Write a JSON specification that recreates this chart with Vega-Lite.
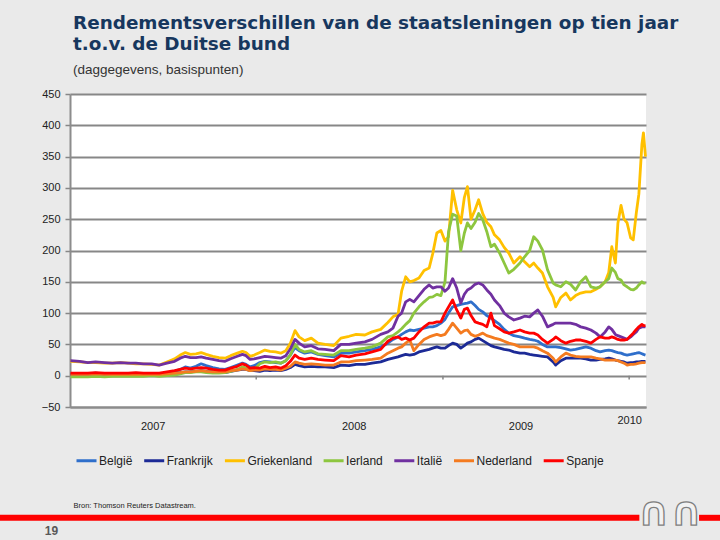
{
  "$schema": "https://vega.github.io/schema/vega-lite/v6.json",
  "autosize": {"type": "none"},
  "width": 576,
  "height": 313,
  "padding": {"left": 70, "top": 94, "right": 74, "bottom": 133},
  "background": "#EAEAEA",
  "title": {
    "text": ["Rendementsverschillen van de staatsleningen op tien jaar", "t.o.v. de Duitse bund"],
    "subtitle": "(daggegevens, basispunten)",
    "anchor": "start",
    "frame": "group",
    "dx": 3,
    "font": "DejaVu Sans",
    "fontSize": 18.4,
    "fontWeight": "bold",
    "color": "#17375E",
    "lineHeight": 21,
    "subtitleFont": "Liberation Sans",
    "subtitleFontSize": 13.5,
    "subtitleColor": "#333333",
    "subtitlePadding": 9,
    "offset": 12
  },
  "datasets": {
    "spreads": [
      {"d": "2007-01-02", "België": 3, "Frankrijk": 2, "Griekenland": 23, "Ierland": -2, "Italië": 24, "Nederland": 2, "Spanje": 4},
      {"d": "2007-01-20", "België": 3, "Frankrijk": 2, "Griekenland": 22, "Ierland": -2, "Italië": 23, "Nederland": 2, "Spanje": 4},
      {"d": "2007-02-05", "België": 3, "Frankrijk": 2, "Griekenland": 21, "Ierland": -2, "Italië": 21, "Nederland": 2, "Spanje": 4},
      {"d": "2007-02-20", "België": 4, "Frankrijk": 3, "Griekenland": 21, "Ierland": -1, "Italië": 22, "Nederland": 3, "Spanje": 5},
      {"d": "2007-03-10", "België": 3, "Frankrijk": 2, "Griekenland": 20, "Ierland": -2, "Italië": 21, "Nederland": 2, "Spanje": 4},
      {"d": "2007-03-25", "België": 3, "Frankrijk": 2, "Griekenland": 20, "Ierland": -1, "Italië": 20, "Nederland": 2, "Spanje": 4},
      {"d": "2007-04-10", "België": 3, "Frankrijk": 2, "Griekenland": 21, "Ierland": -1, "Italië": 21, "Nederland": 2, "Spanje": 4},
      {"d": "2007-04-25", "België": 3, "Frankrijk": 2, "Griekenland": 20, "Ierland": -1, "Italië": 20, "Nederland": 2, "Spanje": 4},
      {"d": "2007-05-10", "België": 3, "Frankrijk": 2, "Griekenland": 19, "Ierland": -1, "Italië": 20, "Nederland": 2, "Spanje": 5},
      {"d": "2007-05-25", "België": 3, "Frankrijk": 2, "Griekenland": 19, "Ierland": -1, "Italië": 19, "Nederland": 2, "Spanje": 4},
      {"d": "2007-06-10", "België": 3, "Frankrijk": 2, "Griekenland": 18, "Ierland": 0, "Italië": 19, "Nederland": 2, "Spanje": 4},
      {"d": "2007-06-25", "België": 3, "Frankrijk": 2, "Griekenland": 17, "Ierland": -1, "Italië": 17, "Nederland": 2, "Spanje": 4},
      {"d": "2007-07-10", "België": 4, "Frankrijk": 3, "Griekenland": 22, "Ierland": 0, "Italië": 20, "Nederland": 3, "Spanje": 6},
      {"d": "2007-07-25", "België": 7, "Frankrijk": 4, "Griekenland": 27, "Ierland": 1, "Italië": 23, "Nederland": 4, "Spanje": 8},
      {"d": "2007-08-05", "België": 10, "Frankrijk": 5, "Griekenland": 33, "Ierland": 3, "Italië": 28, "Nederland": 5, "Spanje": 10},
      {"d": "2007-08-15", "België": 14, "Frankrijk": 6, "Griekenland": 37, "Ierland": 5, "Italië": 31, "Nederland": 6, "Spanje": 12},
      {"d": "2007-08-25", "België": 12, "Frankrijk": 6, "Griekenland": 34, "Ierland": 5, "Italië": 29, "Nederland": 6, "Spanje": 11},
      {"d": "2007-09-05", "België": 15, "Frankrijk": 7, "Griekenland": 35, "Ierland": 6, "Italië": 29, "Nederland": 7, "Spanje": 12},
      {"d": "2007-09-15", "België": 19, "Frankrijk": 8, "Griekenland": 37, "Ierland": 6, "Italië": 30, "Nederland": 8, "Spanje": 13},
      {"d": "2007-09-25", "België": 16, "Frankrijk": 7, "Griekenland": 34, "Ierland": 5, "Italië": 28, "Nederland": 7, "Spanje": 12},
      {"d": "2007-10-08", "België": 13, "Frankrijk": 6, "Griekenland": 31, "Ierland": 4, "Italië": 26, "Nederland": 6, "Spanje": 10},
      {"d": "2007-10-20", "België": 11, "Frankrijk": 5, "Griekenland": 29, "Ierland": 4, "Italië": 24, "Nederland": 6, "Spanje": 9},
      {"d": "2007-11-01", "België": 10, "Frankrijk": 5, "Griekenland": 28, "Ierland": 5, "Italië": 23, "Nederland": 6, "Spanje": 9},
      {"d": "2007-11-12", "België": 13, "Frankrijk": 7, "Griekenland": 32, "Ierland": 7, "Italië": 27, "Nederland": 8, "Spanje": 12},
      {"d": "2007-11-25", "België": 17, "Frankrijk": 9, "Griekenland": 36, "Ierland": 10, "Italië": 31, "Nederland": 9, "Spanje": 15},
      {"d": "2007-12-05", "België": 20, "Frankrijk": 10, "Griekenland": 39, "Ierland": 14, "Italië": 34, "Nederland": 11, "Spanje": 19},
      {"d": "2007-12-12", "België": 18, "Frankrijk": 10, "Griekenland": 37, "Ierland": 12, "Italië": 32, "Nederland": 10, "Spanje": 17},
      {"d": "2007-12-20", "België": 14, "Frankrijk": 8, "Griekenland": 31, "Ierland": 8, "Italië": 26, "Nederland": 8, "Spanje": 12},
      {"d": "2007-12-28", "België": 16, "Frankrijk": 8, "Griekenland": 33, "Ierland": 10, "Italië": 27, "Nederland": 9, "Spanje": 13},
      {"d": "2008-01-08", "België": 21, "Frankrijk": 7, "Griekenland": 37, "Ierland": 19, "Italië": 29, "Nederland": 9, "Spanje": 12},
      {"d": "2008-01-18", "België": 23, "Frankrijk": 9, "Griekenland": 41, "Ierland": 22, "Italië": 31, "Nederland": 11, "Spanje": 15},
      {"d": "2008-01-28", "België": 22, "Frankrijk": 8, "Griekenland": 39, "Ierland": 21, "Italië": 30, "Nederland": 10, "Spanje": 13},
      {"d": "2008-02-08", "België": 21, "Frankrijk": 9, "Griekenland": 38, "Ierland": 22, "Italië": 29, "Nederland": 10, "Spanje": 14},
      {"d": "2008-02-18", "België": 20, "Frankrijk": 8, "Griekenland": 36, "Ierland": 20, "Italië": 28, "Nederland": 9, "Spanje": 12},
      {"d": "2008-02-28", "België": 24, "Frankrijk": 10, "Griekenland": 40, "Ierland": 24, "Italië": 32, "Nederland": 12, "Spanje": 16},
      {"d": "2008-03-08", "België": 33, "Frankrijk": 13, "Griekenland": 52, "Ierland": 33, "Italië": 43, "Nederland": 15, "Spanje": 23},
      {"d": "2008-03-17", "België": 45, "Frankrijk": 18, "Griekenland": 72, "Ierland": 50, "Italië": 58, "Nederland": 22, "Spanje": 33},
      {"d": "2008-03-25", "België": 40, "Frankrijk": 16, "Griekenland": 62, "Ierland": 42, "Italië": 52, "Nederland": 20, "Spanje": 28},
      {"d": "2008-04-05", "België": 36, "Frankrijk": 14, "Griekenland": 56, "Ierland": 38, "Italië": 46, "Nederland": 18, "Spanje": 26},
      {"d": "2008-04-18", "België": 38, "Frankrijk": 15, "Griekenland": 60, "Ierland": 40, "Italië": 48, "Nederland": 19, "Spanje": 28},
      {"d": "2008-05-01", "België": 34, "Frankrijk": 14, "Griekenland": 52, "Ierland": 35, "Italië": 43, "Nederland": 18, "Spanje": 26},
      {"d": "2008-05-15", "België": 32, "Frankrijk": 14, "Griekenland": 50, "Ierland": 34, "Italië": 42, "Nederland": 17, "Spanje": 25},
      {"d": "2008-06-01", "België": 30, "Frankrijk": 13, "Griekenland": 48, "Ierland": 33, "Italië": 40, "Nederland": 17, "Spanje": 24},
      {"d": "2008-06-15", "België": 36, "Frankrijk": 17, "Griekenland": 60, "Ierland": 40, "Italië": 50, "Nederland": 22, "Spanje": 32},
      {"d": "2008-07-01", "België": 36, "Frankrijk": 16, "Griekenland": 63, "Ierland": 40, "Italië": 50, "Nederland": 22, "Spanje": 30},
      {"d": "2008-07-15", "België": 38, "Frankrijk": 18, "Griekenland": 66, "Ierland": 42, "Italië": 52, "Nederland": 24, "Spanje": 33},
      {"d": "2008-08-01", "België": 40, "Frankrijk": 18, "Griekenland": 65, "Ierland": 44, "Italië": 54, "Nederland": 25, "Spanje": 35},
      {"d": "2008-08-15", "België": 42, "Frankrijk": 20, "Griekenland": 70, "Ierland": 46, "Italië": 58, "Nederland": 26, "Spanje": 38},
      {"d": "2008-09-01", "België": 46, "Frankrijk": 22, "Griekenland": 74, "Ierland": 52, "Italië": 66, "Nederland": 28, "Spanje": 42},
      {"d": "2008-09-15", "België": 52, "Frankrijk": 26, "Griekenland": 85, "Ierland": 62, "Italië": 70, "Nederland": 36, "Spanje": 55},
      {"d": "2008-09-25", "België": 58, "Frankrijk": 28, "Griekenland": 94, "Ierland": 64, "Italië": 76, "Nederland": 40, "Spanje": 60},
      {"d": "2008-10-05", "België": 62, "Frankrijk": 30, "Griekenland": 98, "Ierland": 70, "Italië": 95, "Nederland": 44, "Spanje": 62},
      {"d": "2008-10-12", "België": 66, "Frankrijk": 32, "Griekenland": 135, "Ierland": 75, "Italië": 100, "Nederland": 46, "Spanje": 58},
      {"d": "2008-10-20", "België": 70, "Frankrijk": 34, "Griekenland": 158, "Ierland": 82, "Italië": 118, "Nederland": 52, "Spanje": 60},
      {"d": "2008-10-28", "België": 73, "Frankrijk": 33, "Griekenland": 150, "Ierland": 88, "Italië": 122, "Nederland": 57, "Spanje": 57},
      {"d": "2008-11-05", "België": 72, "Frankrijk": 34, "Griekenland": 152, "Ierland": 100, "Italië": 118, "Nederland": 40, "Spanje": 60},
      {"d": "2008-11-15", "België": 74, "Frankrijk": 38, "Griekenland": 156, "Ierland": 110, "Italië": 128, "Nederland": 50, "Spanje": 70},
      {"d": "2008-11-25", "België": 76, "Frankrijk": 40, "Griekenland": 168, "Ierland": 118, "Italië": 138, "Nederland": 58, "Spanje": 78},
      {"d": "2008-12-05", "België": 78, "Frankrijk": 42, "Griekenland": 172, "Ierland": 125, "Italië": 145, "Nederland": 62, "Spanje": 84},
      {"d": "2008-12-12", "België": 78, "Frankrijk": 44, "Griekenland": 195, "Ierland": 126, "Italië": 140, "Nederland": 64, "Spanje": 84},
      {"d": "2008-12-20", "België": 80, "Frankrijk": 46, "Griekenland": 228, "Ierland": 130, "Italië": 142, "Nederland": 66, "Spanje": 86},
      {"d": "2008-12-28", "België": 84, "Frankrijk": 44, "Griekenland": 232, "Ierland": 128, "Italië": 142, "Nederland": 64, "Spanje": 86},
      {"d": "2009-01-05", "België": 90, "Frankrijk": 44, "Griekenland": 215, "Ierland": 150, "Italië": 135, "Nederland": 66, "Spanje": 100},
      {"d": "2009-01-12", "België": 100, "Frankrijk": 48, "Griekenland": 222, "Ierland": 230, "Italië": 140, "Nederland": 74, "Spanje": 110},
      {"d": "2009-01-20", "België": 110, "Frankrijk": 52, "Griekenland": 296, "Ierland": 258, "Italië": 155, "Nederland": 84, "Spanje": 121},
      {"d": "2009-01-28", "België": 112, "Frankrijk": 50, "Griekenland": 265, "Ierland": 255, "Italië": 140, "Nederland": 76, "Spanje": 105},
      {"d": "2009-02-05", "België": 114, "Frankrijk": 44, "Griekenland": 244, "Ierland": 200, "Italië": 116, "Nederland": 68, "Spanje": 92},
      {"d": "2009-02-12", "België": 115, "Frankrijk": 48, "Griekenland": 285, "Ierland": 228, "Italië": 130, "Nederland": 72, "Spanje": 106},
      {"d": "2009-02-18", "België": 116, "Frankrijk": 52, "Griekenland": 302, "Ierland": 244, "Italië": 137, "Nederland": 73, "Spanje": 108},
      {"d": "2009-02-25", "België": 118, "Frankrijk": 54, "Griekenland": 250, "Ierland": 235, "Italië": 140, "Nederland": 66, "Spanje": 96},
      {"d": "2009-03-05", "België": 112, "Frankrijk": 58, "Griekenland": 265, "Ierland": 245, "Italië": 146, "Nederland": 63, "Spanje": 86},
      {"d": "2009-03-12", "België": 106, "Frankrijk": 60, "Griekenland": 281, "Ierland": 259, "Italië": 148, "Nederland": 65, "Spanje": 84},
      {"d": "2009-03-20", "België": 102, "Frankrijk": 56, "Griekenland": 259, "Ierland": 249, "Italië": 145, "Nederland": 68, "Spanje": 82},
      {"d": "2009-03-28", "België": 96, "Frankrijk": 52, "Griekenland": 245, "Ierland": 230, "Italië": 137, "Nederland": 64, "Spanje": 78},
      {"d": "2009-04-05", "België": 92, "Frankrijk": 48, "Griekenland": 238, "Ierland": 206, "Italië": 130, "Nederland": 62, "Spanje": 100},
      {"d": "2009-04-12", "België": 88, "Frankrijk": 46, "Griekenland": 225, "Ierland": 210, "Italië": 121, "Nederland": 60, "Spanje": 80},
      {"d": "2009-04-22", "België": 82, "Frankrijk": 44, "Griekenland": 217, "Ierland": 196, "Italië": 112, "Nederland": 58, "Spanje": 75},
      {"d": "2009-05-01", "België": 74, "Frankrijk": 42, "Griekenland": 205, "Ierland": 180, "Italië": 100, "Nederland": 55, "Spanje": 70},
      {"d": "2009-05-10", "België": 68, "Frankrijk": 41, "Griekenland": 196, "Ierland": 164, "Italië": 94, "Nederland": 52, "Spanje": 68},
      {"d": "2009-05-20", "België": 64, "Frankrijk": 38, "Griekenland": 180, "Ierland": 170, "Italië": 89, "Nederland": 50, "Spanje": 70},
      {"d": "2009-06-01", "België": 62, "Frankrijk": 36, "Griekenland": 190, "Ierland": 180, "Italië": 92, "Nederland": 46, "Spanje": 73},
      {"d": "2009-06-10", "België": 60, "Frankrijk": 36, "Griekenland": 182, "Ierland": 190, "Italië": 95, "Nederland": 46, "Spanje": 70},
      {"d": "2009-06-20", "België": 58, "Frankrijk": 34, "Griekenland": 174, "Ierland": 200, "Italië": 94, "Nederland": 46, "Spanje": 68},
      {"d": "2009-06-28", "België": 57, "Frankrijk": 33, "Griekenland": 180, "Ierland": 222, "Italië": 100, "Nederland": 46, "Spanje": 68},
      {"d": "2009-07-06", "België": 55, "Frankrijk": 32, "Griekenland": 172, "Ierland": 215, "Italië": 105, "Nederland": 44, "Spanje": 65},
      {"d": "2009-07-15", "België": 50, "Frankrijk": 31, "Griekenland": 164, "Ierland": 201, "Italië": 95, "Nederland": 40, "Spanje": 58},
      {"d": "2009-07-25", "België": 46, "Frankrijk": 30, "Griekenland": 142, "Ierland": 169, "Italië": 78, "Nederland": 36, "Spanje": 52},
      {"d": "2009-08-05", "België": 46, "Frankrijk": 22, "Griekenland": 125, "Ierland": 148, "Italië": 82, "Nederland": 28, "Spanje": 58},
      {"d": "2009-08-10", "België": 46, "Frankrijk": 17, "Griekenland": 110, "Ierland": 145, "Italië": 84, "Nederland": 22, "Spanje": 62},
      {"d": "2009-08-20", "België": 45, "Frankrijk": 24, "Griekenland": 125, "Ierland": 142, "Italië": 84, "Nederland": 30, "Spanje": 56},
      {"d": "2009-08-30", "België": 43, "Frankrijk": 28, "Griekenland": 132, "Ierland": 150, "Italië": 84, "Nederland": 36, "Spanje": 52},
      {"d": "2009-09-08", "België": 41, "Frankrijk": 28, "Griekenland": 121, "Ierland": 146, "Italië": 84, "Nederland": 33, "Spanje": 55},
      {"d": "2009-09-18", "België": 42, "Frankrijk": 28, "Griekenland": 128, "Ierland": 137, "Italië": 82, "Nederland": 31, "Spanje": 57},
      {"d": "2009-09-28", "België": 44, "Frankrijk": 28, "Griekenland": 132, "Ierland": 150, "Italië": 78, "Nederland": 30, "Spanje": 57},
      {"d": "2009-10-08", "België": 46, "Frankrijk": 27, "Griekenland": 134, "Ierland": 158, "Italië": 76, "Nederland": 30, "Spanje": 55},
      {"d": "2009-10-18", "België": 44, "Frankrijk": 25, "Griekenland": 134, "Ierland": 142, "Italië": 73, "Nederland": 30, "Spanje": 52},
      {"d": "2009-10-28", "België": 40, "Frankrijk": 25, "Griekenland": 138, "Ierland": 140, "Italië": 68, "Nederland": 28, "Spanje": 58},
      {"d": "2009-11-05", "België": 38, "Frankrijk": 26, "Griekenland": 142, "Ierland": 142, "Italië": 62, "Nederland": 27, "Spanje": 62},
      {"d": "2009-11-15", "België": 40, "Frankrijk": 27, "Griekenland": 150, "Ierland": 150, "Italië": 70, "Nederland": 25, "Spanje": 60},
      {"d": "2009-11-22", "België": 41, "Frankrijk": 28, "Griekenland": 165, "Ierland": 155, "Italië": 78, "Nederland": 25, "Spanje": 60},
      {"d": "2009-11-28", "België": 40, "Frankrijk": 27, "Griekenland": 206, "Ierland": 172, "Italië": 74, "Nederland": 25, "Spanje": 62},
      {"d": "2009-12-05", "België": 38, "Frankrijk": 25, "Griekenland": 180, "Ierland": 165, "Italië": 66, "Nederland": 25, "Spanje": 60},
      {"d": "2009-12-10", "België": 37, "Frankrijk": 24, "Griekenland": 244, "Ierland": 155, "Italië": 64, "Nederland": 24, "Spanje": 58},
      {"d": "2009-12-16", "België": 36, "Frankrijk": 23, "Griekenland": 272, "Ierland": 153, "Italië": 62, "Nederland": 22, "Spanje": 57},
      {"d": "2009-12-22", "België": 34, "Frankrijk": 22, "Griekenland": 250, "Ierland": 145, "Italië": 60, "Nederland": 20, "Spanje": 57},
      {"d": "2009-12-28", "België": 33, "Frankrijk": 20, "Griekenland": 244, "Ierland": 142, "Italië": 58, "Nederland": 17, "Spanje": 58},
      {"d": "2010-01-04", "België": 34, "Frankrijk": 21, "Griekenland": 220, "Ierland": 138, "Italië": 62, "Nederland": 18, "Spanje": 64},
      {"d": "2010-01-09", "België": 35, "Frankrijk": 21, "Griekenland": 217, "Ierland": 137, "Italië": 66, "Nederland": 18, "Spanje": 68},
      {"d": "2010-01-15", "België": 36, "Frankrijk": 22, "Griekenland": 260, "Ierland": 140, "Italië": 70, "Nederland": 19, "Spanje": 74},
      {"d": "2010-01-20", "België": 37, "Frankrijk": 22, "Griekenland": 290, "Ierland": 145, "Italië": 76, "Nederland": 20, "Spanje": 78},
      {"d": "2010-01-26", "België": 35, "Frankrijk": 23, "Griekenland": 370, "Ierland": 150, "Italië": 78, "Nederland": 21, "Spanje": 82},
      {"d": "2010-01-29", "België": 34, "Frankrijk": 23, "Griekenland": 388, "Ierland": 148, "Italië": 78, "Nederland": 21, "Spanje": 80},
      {"d": "2010-02-02", "België": 33, "Frankrijk": 23, "Griekenland": 350, "Ierland": 148, "Italië": 78, "Nederland": 21, "Spanje": 80}
    ],
    "yearTicks": [
      {"d": "2008-01-01"},
      {"d": "2009-01-01"},
      {"d": "2010-01-01"}
    ],
    "band": [
      {"from": "2006-08-10", "to": "2010-01-21"},
      {"from": "2010-05-18", "to": "2010-07-15"}
    ],
    "logo": [
      {"d": "2010-03-22", "mark": "∩∩"}
    ]
  },
  "layer": [
    {
      "data": {"name": "spreads"},
      "transform": [
        {"fold": ["België", "Frankrijk", "Griekenland", "Ierland", "Italië", "Nederland", "Spanje"], "as": ["land", "bp"]}
      ],
      "mark": {"type": "line", "strokeWidth": 2.8, "strokeJoin": "round"},
      "encoding": {
        "x": {
          "field": "d",
          "type": "temporal",
          "scale": {"domain": [{"year": 2007, "month": 1, "date": 1}, {"year": 2010, "month": 2, "date": 3}]},
          "axis": {
            "values": [
              {"year": 2007, "month": 6, "date": 12},
              {"year": 2008, "month": 7, "date": 10},
              {"year": 2009, "month": 6, "date": 2},
              {"year": 2010, "month": 1, "date": 1}
            ],
            "labelExpr": "timeFormat(datum.value, '%Y')",
            "ticks": false,
            "grid": false,
            "domainColor": "#8C8C8C",
            "domainWidth": 2,
            "labelFont": "Liberation Sans",
            "labelFontSize": 11,
            "labelColor": "#222222",
            "labelPadding": 13,
            "labelOverlap": false,
            "labelBaseline": {"condition": {"test": "year(datum.value) == 2010", "value": "middle"}, "value": "top"},
            "title": "Bron: Thomson Reuters Datastream.",
            "titleFont": "Liberation Sans",
            "titleFontSize": 7.5,
            "titleFontWeight": "normal",
            "titleColor": "#222222",
            "titleAnchor": "start",
            "titleAlign": "left",
            "titleBaseline": "middle",
            "titleX": 3,
            "titleY": 98
          }
        },
        "y": {
          "field": "bp",
          "type": "quantitative",
          "scale": {"domain": [-50, 450], "nice": false},
          "axis": {
            "values": [-50, 0, 50, 100, 150, 200, 250, 300, 350, 400, 450],
            "tickCount": 12,
            "labelOverlap": false,
            "grid": true,
            "gridColor": "#878787",
            "gridWidth": 2,
            "domainColor": "#8C8C8C",
            "domainWidth": 2,
            "tickColor": "#878787",
            "tickSize": 5,
            "tickWidth": 1.5,
            "labelFont": "Liberation Sans",
            "labelFontSize": 11,
            "labelColor": "#222222",
            "labelPadding": 5,
            "title": "19",
            "titleAngle": 0,
            "titleFont": "Liberation Sans",
            "titleFontSize": 12,
            "titleFontWeight": "bold",
            "titleColor": "#595959",
            "titleAlign": "center",
            "titleBaseline": "middle",
            "titleX": -19,
            "titleY": 436
          }
        },
        "color": {
          "field": "land",
          "type": "nominal",
          "scale": {
            "domain": ["België", "Frankrijk", "Griekenland", "Ierland", "Italië", "Nederland", "Spanje"],
            "range": ["#2F6FCB", "#1C2A96", "#FFC000", "#8DC63F", "#7030A0", "#F47B20", "#FF0000"]
          },
          "legend": {
            "orient": "none",
            "legendX": 5,
            "legendY": 355,
            "direction": "horizontal",
            "title": null,
            "symbolType": "stroke",
            "symbolStrokeWidth": 3,
            "symbolSize": 400,
            "labelFont": "Liberation Sans",
            "labelFontSize": 12,
            "labelColor": "#222222",
            "labelOffset": 1,
            "columnPadding": 4.7
          }
        }
      }
    },
    {
      "data": {"name": "yearTicks"},
      "mark": {"type": "rule", "color": "#878787", "strokeWidth": 1.5},
      "encoding": {
        "x": {"field": "d", "type": "temporal"},
        "y": {"datum": 0},
        "y2": {"datum": -6}
      }
    },
    {
      "data": {"name": "band"},
      "mark": {"type": "rule", "color": "#FF0000", "strokeWidth": 6},
      "encoding": {
        "x": {"field": "from", "type": "temporal"},
        "x2": {"field": "to"},
        "y": {"datum": -227}
      }
    },
    {
      "data": {"name": "logo"},
      "mark": {"type": "text", "font": "DejaVu Sans", "fontWeight": "bold", "fontSize": 40, "fill": "#F2F2F2", "stroke": "#7F7F7F", "strokeWidth": 1.3, "baseline": "middle", "align": "center"},
      "encoding": {
        "x": {"field": "d", "type": "temporal"},
        "y": {"datum": -219},
        "text": {"field": "mark"}
      }
    }
  ],
  "config": {
    "view": {"fill": "#FFFFFF", "stroke": null},
    "font": "Liberation Sans"
  }
}
